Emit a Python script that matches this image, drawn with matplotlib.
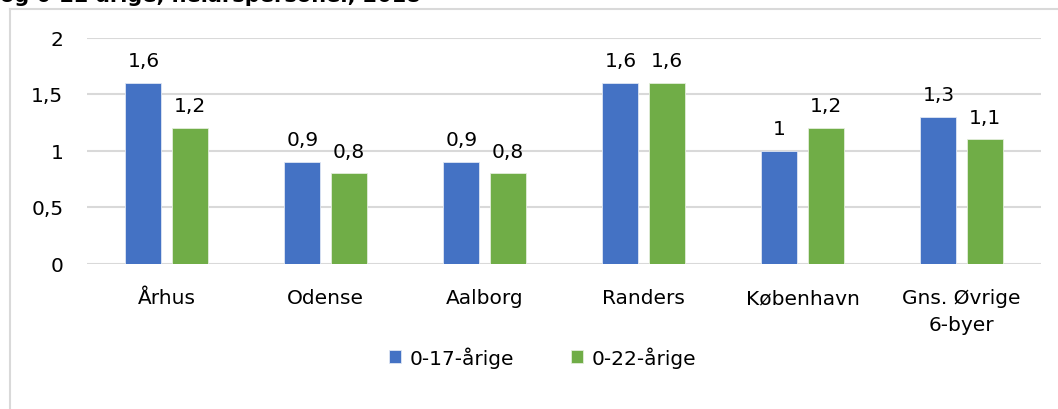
import numpy as np
import matplotlib.pyplot as plt
from matplotlib.lines import Line2D

# data
byer = ['Århus', 'Odense', 'Aalborg', 'Randers', 'København', 'Gns. Øvrige\n6-byer']
v_0_17 = [1.6, 0.9, 0.9, 1.6, 1.0, 1.3]
v_0_22 = [1.2, 0.8, 0.8, 1.6, 1.2, 1.1]
serier = ['0-17-årige', '0-22-årige']
yticks = [0, 0.5, 1, 1.5, 2]

blue = '#4472C4'
green = '#70AD47'
grid_col = '#d9d9d9'
fs = 14.5

plt.rcParams['font.family'] = ['DejaVu Sans']

def komma(v):
    s = ('%g' % v)
    return s.replace('.', ',')

fig = plt.figure(figsize=(10.58, 4.10), dpi=100)
ax = fig.add_axes([87/1058, 1 - 264.5/410, 954/1058, 226/410])

x = np.arange(len(byer))
w = 0.226
off = 0.145
b1 = ax.bar(x - off, v_0_17, w, color=blue, edgecolor='#dfe6f3', linewidth=0.6, zorder=3, label=serier[0])
b2 = ax.bar(x + off, v_0_22, w, color=green, edgecolor='#e3eedb', linewidth=0.6, zorder=3, label=serier[1])

for bars, vals in [(b1, v_0_17), (b2, v_0_22)]:
    for b, v in zip(bars, vals):
        ax.annotate(komma(v), (b.get_x() + b.get_width()/2, v), xytext=(0, 9),
                    textcoords='offset points', ha='center', va='bottom', fontsize=fs)

ax.set_xlim(-0.5, len(byer) - 0.5)
ax.set_ylim(0, 2)
ax.set_yticks(yticks)
ax.set_yticklabels([komma(t) for t in yticks], fontsize=fs)
ax.set_xticks(x)
ax.set_xticklabels([])
ax.tick_params(length=0)
ax.tick_params(axis='y', pad=17)
ax.yaxis.grid(True, color=grid_col, linewidth=1.5, zorder=0)
for s in ax.spines.values():
    s.set_visible(False)

# category labels, placed by baseline so they line up like the original
for xi, navn in zip(x, byer):
    if '\n' in navn:
        ax.annotate(navn, (xi, 0), xytext=(0, -17.3), textcoords='offset points',
                    ha='center', va='top', fontsize=fs, linespacing=1.55,
                    annotation_clip=False)
    else:
        ax.annotate(navn, (xi, 0), xytext=(0, -28.4), textcoords='offset points',
                    ha='center', va='baseline', fontsize=fs, annotation_clip=False)

fig.legend(handles=[b1, b2], labels=serier, loc='center', bbox_to_anchor=(0.513, 1 - 358/410),
           ncol=2, frameon=False, fontsize=fs, handlelength=0.6, handleheight=0.6,
           handletextpad=0.45, columnspacing=2.8)

# chart frame and cut-off title
fig.add_artist(Line2D([10/1058, 10/1058], [0, 1 - 10/410], color=grid_col, linewidth=1.5))
fig.add_artist(Line2D([10/1058, 1], [1 - 10/410, 1 - 10/410], color=grid_col, linewidth=1.5))
fig.text(0.0, 1 - 2/410, 'og 0-22 årige, helårspersoner, 2018', fontsize=15,
         fontweight='bold', va='baseline', ha='left')

fig.savefig('out.png', dpi=100)
